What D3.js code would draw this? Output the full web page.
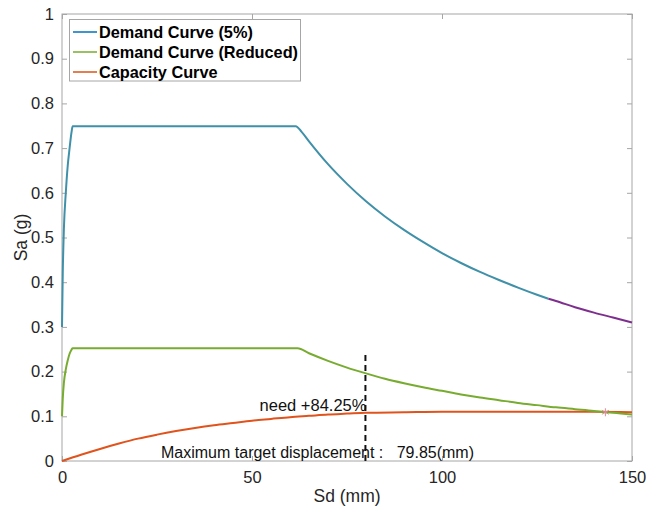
<!DOCTYPE html>
<html>
<head>
<meta charset="utf-8">
<script src="https://cdn.jsdelivr.net/npm/d3@7"></script>
<style>
  html, body { margin: 0; padding: 0; background: #fff; }
  svg { display: block; font-family: "Liberation Sans", Arial, Helvetica, sans-serif; }
</style>
</head>
<body>
<svg id="chart" width="660" height="509"></svg>
<script>
// ---------- data ----------
const demandSd = [0, 0.2, 0.5, 1.0, 1.5, 2.0, 2.5, 2.8, 61.5, 63, 65, 70, 75, 80, 85, 90, 95, 100, 105, 110, 115, 120, 125, 128];
const demandSa = [0.30, 0.42, 0.52, 0.60, 0.66, 0.70, 0.735, 0.749, 0.749, 0.737, 0.715, 0.664, 0.620, 0.581, 0.547, 0.517, 0.490, 0.465, 0.443, 0.423, 0.405, 0.388, 0.372, 0.363];
const demandTailSd = [128, 130, 135, 140, 145, 150];
const demandTailSa = [0.363, 0.358, 0.344, 0.332, 0.321, 0.310];
const reducedSd = [0, 0.2, 0.5, 1.0, 1.5, 2.0, 2.5, 2.8, 62, 65, 70, 75, 80, 85, 90, 95, 100, 105, 110, 115, 120, 125, 130, 135, 140, 143, 145, 150];
const reducedSa = [0.10, 0.14, 0.175, 0.205, 0.225, 0.240, 0.249, 0.252, 0.252, 0.241, 0.224, 0.209, 0.196, 0.184, 0.174, 0.165, 0.157, 0.149, 0.142, 0.136, 0.130, 0.125, 0.120, 0.116, 0.112, 0.109, 0.108, 0.104];
const capacitySd = [0, 5, 10, 15, 20, 25, 30, 35, 40, 45, 50, 55, 60, 65, 70, 75, 80, 90, 100, 110, 120, 130, 140, 150];
const capacitySa = [0, 0.014, 0.027, 0.039, 0.050, 0.059, 0.067, 0.074, 0.080, 0.085, 0.090, 0.094, 0.098, 0.101, 0.104, 0.106, 0.108, 0.109, 0.110, 0.110, 0.110, 0.110, 0.110, 0.109];
const xTicks = [0, 50, 100, 150];
const yTicks = [0, 0.1, 0.2, 0.3, 0.4, 0.5, 0.6, 0.7, 0.8, 0.9, 1];
const targetDisp = 79.85;
const targetLineTop = 0.24;
const perfPointSd = 143;
const perfPointSa = 0.109;
const needLabel = "need +84.25%";
const targetLabel = "Maximum target displacement :   79.85(mm)";
const legendLabels = ["Demand Curve (5%)", "Demand Curve (Reduced)", "Capacity Curve"];
const legendColors = ["#0072BD", "#77AC30", "#D95319"];

// ---------- layout ----------
const svg = d3.select("#chart");
const L = 62, R = 632, T = 14, B = 461;
const x = d3.scaleLinear().domain([0, 150]).range([L, R]);
const y = d3.scaleLinear().domain([0, 1]).range([B, T]);
const axisCol = "#a6a6a6";
const textCol = "#262626";

// axes box
svg.append("rect").attr("x", L).attr("y", T).attr("width", R - L).attr("height", B - T)
  .attr("fill", "#fff").attr("stroke", axisCol).attr("stroke-width", 1);

function styleAxis(g, showLabels) {
  g.select(".domain").remove();
  g.selectAll(".tick line").attr("stroke", axisCol);
  g.selectAll(".tick text").attr("fill", textCol).style("font-size", "16.5px")
    .style("display", showLabels ? null : "none");
}
// bottom
svg.append("g").attr("transform", `translate(0,${B})`)
  .call(d3.axisBottom(x).tickValues(xTicks).tickFormat(d3.format("d")).tickSizeInner(-5).tickPadding(10))
  .call(g => styleAxis(g, true));
// top
svg.append("g").attr("transform", `translate(0,${T})`)
  .call(d3.axisTop(x).tickValues(xTicks).tickSizeInner(-5))
  .call(g => styleAxis(g, false));
// left
svg.append("g").attr("transform", `translate(${L},0)`)
  .call(d3.axisLeft(y).tickValues(yTicks).tickFormat(d => d === 0 ? "0" : d === 1 ? "1" : d3.format(".1f")(d)).tickSizeInner(-5).tickPadding(8))
  .call(g => styleAxis(g, true));
// right
svg.append("g").attr("transform", `translate(${R},0)`)
  .call(d3.axisRight(y).tickValues(yTicks).tickSizeInner(-5))
  .call(g => styleAxis(g, false));

// axis labels
svg.append("text").attr("x", (L + R) / 2).attr("y", 502).attr("text-anchor", "middle")
  .attr("fill", textCol).style("font-size", "17.5px").text("Sd (mm)");
svg.append("text").attr("transform", `translate(27,${(T + B) / 2}) rotate(-90)`).attr("text-anchor", "middle")
  .attr("fill", textCol).style("font-size", "17.5px").text("Sa (g)");

// ---------- curves ----------
const line = d3.line().x(d => x(d[0])).y(d => y(d[1])).curve(d3.curveMonotoneX);
const zip = (a, b) => a.map((v, i) => [v, b[i]]);

const plot = svg.append("g");
plot.append("path").datum(zip(capacitySd, capacitySa)).attr("d", line)
  .attr("fill", "none").attr("stroke", "#E0531C").attr("stroke-width", 2);
plot.append("path").datum(zip(reducedSd, reducedSa)).attr("d", line)
  .attr("fill", "none").attr("stroke", "#77AC30").attr("stroke-width", 2);
plot.append("path").datum(zip(demandSd, demandSa)).attr("d", line)
  .attr("fill", "none").attr("stroke", "#3F90A8").attr("stroke-width", 2);
plot.append("path").datum(zip(demandTailSd, demandTailSa)).attr("d", line)
  .attr("fill", "none").attr("stroke", "#7E2F8E").attr("stroke-width", 2);

// target displacement dashed line
plot.append("line").attr("x1", x(targetDisp)).attr("x2", x(targetDisp))
  .attr("y1", y(0)).attr("y2", y(targetLineTop))
  .attr("stroke", "#111").attr("stroke-width", 2).attr("stroke-dasharray", "6,4");

// performance point asterisk
const px = x(perfPointSd), py = y(perfPointSa), r = 4;
const ast = plot.append("g").attr("stroke", "#E08A9E").attr("stroke-width", 1);
[[0, -r, 0, r], [-r * 0.87, -r * 0.5, r * 0.87, r * 0.5], [-r * 0.87, r * 0.5, r * 0.87, -r * 0.5]].forEach(s => {
  ast.append("line").attr("x1", px + s[0]).attr("y1", py + s[1]).attr("x2", px + s[2]).attr("y2", py + s[3]);
});

// annotations
svg.append("text").attr("x", x(targetDisp) + 1).attr("y", 411).attr("text-anchor", "end")
  .attr("fill", "#111").style("font-size", "16.5px").text(needLabel);
svg.append("text").attr("x", 161).attr("y", 458).attr("text-anchor", "start")
  .attr("fill", "#111").style("font-size", "16px").style("white-space", "pre")
  .attr("xml:space", "preserve").text(targetLabel);

// ---------- legend ----------
const lg = svg.append("g");
lg.append("rect").attr("x", 69.5).attr("y", 19.5).attr("width", 231).attr("height", 61.5)
  .attr("fill", "#fff").attr("stroke", axisCol).attr("stroke-width", 1);
legendLabels.forEach((lab, i) => {
  const cy = 32 + i * 20;
  lg.append("line").attr("x1", 73).attr("x2", 97).attr("y1", cy).attr("y2", cy)
    .attr("stroke", legendColors[i]).attr("stroke-width", 1.5);
  lg.append("text").attr("x", 99).attr("y", cy + 6).attr("fill", "#000")
    .style("font-size", "16.3px").style("font-weight", "bold").text(lab);
});
</script>
</body>
</html>
